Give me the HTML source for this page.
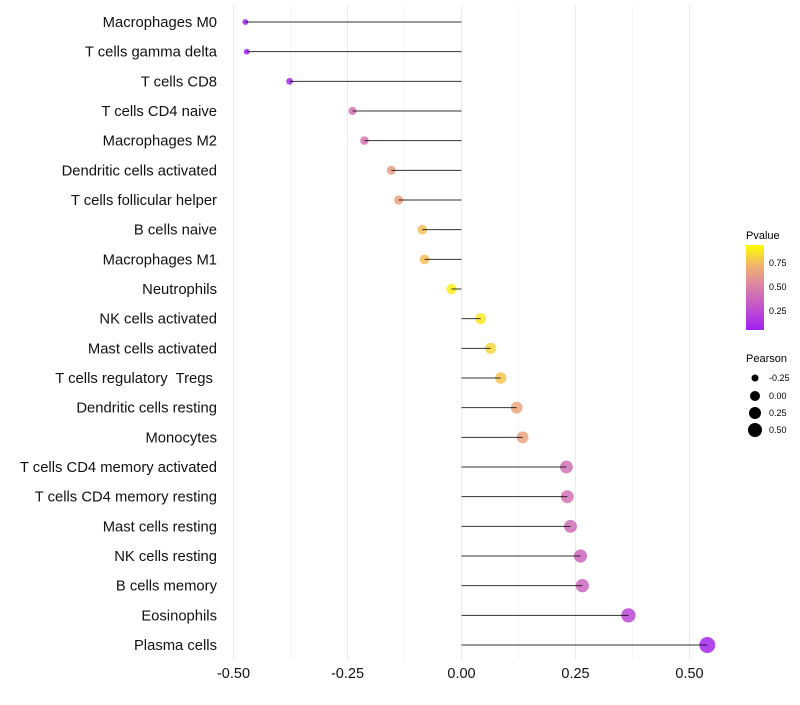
<!DOCTYPE html>
<html><head><meta charset="utf-8"><style>
body{margin:0;background:#fff;font-family:"Liberation Sans",sans-serif;}
svg text{font-family:"Liberation Sans",sans-serif;white-space:pre;}
</style></head><body>
<svg id="chart" width="800" height="700">
<defs><linearGradient id="pg" x1="0" y1="1" x2="0" y2="0">
<stop offset="0" stop-color="#A020F0"/><stop offset="0.25" stop-color="#C050D0"/><stop offset="0.5" stop-color="#D880A8"/><stop offset="0.75" stop-color="#F0B070"/><stop offset="1" stop-color="#FFFF00"/>
</linearGradient></defs>
<g id="grid"></g><g id="marks"></g><g id="labels"></g>
<g>
<text x="746" y="239" font-size="11">Pvalue</text>
<rect x="746" y="245" width="18" height="85" fill="url(#pg)"/>
<text x="769" y="266" font-size="9">0.75</text>
<text x="769" y="290" font-size="9">0.50</text>
<text x="769" y="314" font-size="9">0.25</text>
<text x="746" y="362" font-size="11">Pearson</text>
<circle cx="755" cy="378" r="3.5"/><text x="769" y="381" font-size="9">-0.25</text>
<circle cx="755" cy="396" r="5"/><text x="769" y="399" font-size="9">0.00</text>
<circle cx="755" cy="413" r="6"/><text x="769" y="416" font-size="9">0.25</text>
<circle cx="755" cy="430" r="7"/><text x="769" y="433" font-size="9">0.50</text>
</g>
</svg>
<script>
const categories=["Macrophages M0","T cells gamma delta","T cells CD8","T cells CD4 naive","Macrophages M2","Dendritic cells activated","T cells follicular helper","B cells naive","Macrophages M1","Neutrophils","NK cells activated","Mast cells activated","T cells regulatory  Tregs ","Dendritic cells resting","Monocytes","T cells CD4 memory activated","T cells CD4 memory resting","Mast cells resting","NK cells resting","B cells memory","Eosinophils","Plasma cells"];
const pearson=[-0.474,-0.471,-0.377,-0.239,-0.213,-0.154,-0.138,-0.086,-0.081,-0.022,0.042,0.064,0.086,0.121,0.134,0.230,0.232,0.239,0.261,0.265,0.366,0.539];
const pvalue=[0.01,0.02,0.08,0.45,0.45,0.65,0.68,0.8,0.8,0.95,0.92,0.86,0.82,0.7,0.68,0.42,0.42,0.4,0.36,0.36,0.2,0.03];
const xTicks=[-0.5,-0.25,0,0.25,0.5];
const xTickLabels=["-0.50","-0.25","0.00","0.25","0.50"];
const NS="http://www.w3.org/2000/svg";
const x=v=>461.5+v*456;
const y=i=>22+i*(623/21);
const r=v=>5.3+5*v;
const stops=[[0,[160,32,240]],[0.25,[192,80,208]],[0.5,[216,128,168]],[0.75,[240,176,112]],[1,[255,255,0]]];
function col(p){for(let k=1;k<stops.length;k++){if(p<=stops[k][0]){const[a,c1]=stops[k-1],[b,c2]=stops[k];const t=(p-a)/(b-a);return "rgb("+c1.map((c,j)=>Math.round(c+(c2[j]-c)*t)).join(",")+")";}}return "rgb(255,255,0)";}
function mk(t,at,parent){const e=document.createElementNS(NS,t);for(const k in at)e.setAttribute(k,at[k]);document.getElementById(parent).appendChild(e);return e;}
for(let v=-0.5;v<=0.5;v+=0.125){const g=mk("line",{x1:x(v),x2:x(v),y1:5,y2:660,stroke:"#ebebeb","stroke-width":Math.abs(v*4-Math.round(v*4))<1e-6?1:0.5},"grid");

}
xTicks.forEach((v,i)=>{const t=mk("text",{x:x(v),y:678,"font-size":14.5,"text-anchor":"middle",fill:"#111"},"labels");t.textContent=xTickLabels[i];

});
categories.forEach((c,i)=>{
const t=mk("text",{x:217,y:y(i)+5,"font-size":14.8,"text-anchor":"end",fill:"#111"},"labels");t.textContent=c;


const d=mk("circle",{cx:x(pearson[i]),cy:y(i),r:r(pearson[i]),fill:col(pvalue[i]),"fill-opacity":0.85},"marks");


const l=mk("line",{x1:x(0),x2:x(pearson[i]),y1:y(i),y2:y(i),stroke:"#000","stroke-width":1,"stroke-opacity":0.8},"marks");


});
</script>
</body></html>
